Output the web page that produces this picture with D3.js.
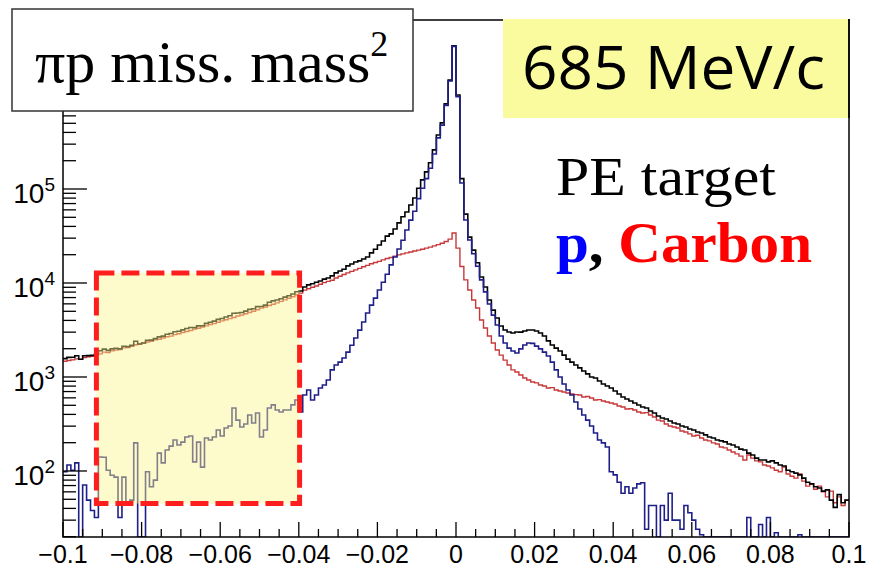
<!DOCTYPE html>
<html>
<head>
<meta charset="utf-8">
<script src="https://cdn.jsdelivr.net/npm/d3@7"></script>
<style>
  html, body { margin: 0; padding: 0; background: #ffffff; }
  svg { display: block; }
</style>
</head>
<body>
<svg id="chart" width="869" height="568"></svg>
<script>
// Missing-mass-squared histograms, 200 bins of 0.001 from -0.1 to 0.1
const xRange = [-0.1, 0.1];
const binWidth = 0.001;
const xTickValues = [-0.1, -0.08, -0.06, -0.04, -0.02, 0, 0.02, 0.04, 0.06, 0.08, 0.1];
const xTickLabels = ["\u22120.1", "\u22120.08", "\u22120.06", "\u22120.04", "\u22120.02", "0", "0.02", "0.04", "0.06", "0.08", "0.1"];
const yDecadeExponents = [2, 3, 4, 5];
const yRange = [19.85, 6.28e6];

// PE target (total)
const peTarget = [
  1570,1616,1620,1680,1545,1680,1690,1700,1730,1900,
  1980,1920,1990,2015,1990,2125,2105,2170,2400,2240,
  2300,2460,2470,2560,2675,2720,2850,2900,3030,3070,
  3170,3280,3360,3355,3500,3510,3720,3830,3930,4100,
  4190,4350,4480,4770,4800,4850,5020,5240,5320,5610,
  5630,5820,6230,6450,6600,6800,7070,7330,7650,8070,
  8220,9060,9550,9800,10200,10500,11000,11300,11900,12800,
  13400,14000,15200,15900,16700,17200,18000,18900,20900,22900,
  25400,28000,31500,33300,37600,43600,50600,56900,67700,80200,
  102000,125000,152000,190000,261000,376000,505000,805000,1440000,3330000,
  1000000,129000,54000,30800,22400,16400,11600,9060,6590,5150,
  4240,3490,3160,3010,2940,3010,3000,3090,3160,3160,
  3090,2940,2730,2420,2190,2030,1890,1710,1550,1440,
  1340,1250,1160,1080,1000,977,907,843,803,764,
  710,660,613,583,556,529,503,480,468,435,
  414,384,366,357,340,324,316,301,294,280,
  273,260,254,242,230,224,214,209,204,194,
  189,180,171,167,155,148,137,131,131,125,
  128,122,116,113,102,98,95,91,84,76,
  73,68,66,61,63,49,41,56,46,49
];

// proton component
const proton = [
  98,116,102,122,0,71,49,38,32,141,
  140,102,90,86,32,86,46,49,199,0,
  0,98,68,80,155,122,167,184,214,189,
  203,230,236,125,203,110,224,214,230,273,
  236,287,301,468,348,294,316,394,324,414,
  230,273,468,505,446,424,446,446,505,569,
  424,644,728,569,644,764,823,930,1190,1340,
  1440,1590,1840,2180,2600,3150,3850,4800,5820,6900,
  8420,10200,12400,15600,18900,23000,28500,36600,46700,58000,
  79000,102000,129000,166000,236000,350000,478000,775000,1410000,3290000,
  960000,116000,46800,28700,20500,15100,10800,8050,5970,4550,
  3570,2730,2300,2030,1890,1800,1990,2190,2300,2280,
  2130,1990,1840,1670,1440,1190,1000,843,728,644,
  542,457,394,348,301,254,214,199,180,98,
  91,76,58,68,58,66,73,75,24,43,
  43,0,43,30,58,30,30,24,43,36,
  30,24,21,0,0,0,0,0,0,0,
  0,0,0,0,32,0,0,27,0,32,
  0,22,0,0,0,0,0,21,0,0,
  0,0,0,0,0,0,0,0,0,0
];

// carbon component
const carbon = [
  1470,1500,1520,1560,1540,1610,1640,1660,1700,1760,
  1840,1820,1900,1930,1960,2040,2060,2120,2200,2240,
  2300,2360,2400,2480,2520,2600,2680,2720,2820,2880,
  2970,3050,3120,3230,3300,3400,3500,3620,3700,3830,
  3950,4060,4180,4300,4450,4560,4700,4850,5000,5200,
  5400,5550,5760,5950,6150,6380,6620,6880,7150,7500,
  7800,8400,8700,9000,9300,9700,10100,10400,10700,11300,
  11800,12300,12800,13300,13800,14300,14900,15400,16000,16500,
  17000,17600,18200,18700,19300,19900,20400,20900,21400,21900,
  22400,22900,23500,24100,24800,25600,26500,27600,29300,34000,
  23500,15000,10800,8420,6590,5420,4040,3320,2730,2300,
  1940,1710,1510,1340,1190,1130,1050,977,930,886,
  865,823,803,764,770,728,710,693,676,660,
  650,644,613,620,598,569,575,556,542,529,
  517,492,480,457,460,446,424,414,418,394,
  375,348,340,316,301,294,287,266,260,248,
  236,240,224,214,209,199,194,180,176,167,
  159,152,144,131,148,137,128,125,116,113,
  108,102,98,110,93,88,84,93,78,69,
  73,64,69,60,53,61,46,53,43,49
];

// highlighted region, in data units
const regionX = [-0.0915, -0.0398];
const regionY = [45, 12800];

const frame = { left: 63, right: 849, top: 20, bottom: 537 };

const svg = d3.select("#chart");
const x = d3.scaleLinear().domain(xRange).range([frame.left, frame.right]);
const y = d3.scaleLog().domain(yRange).range([frame.bottom, frame.top]);
const yc = v => y(Math.min(yRange[1], Math.max(yRange[0], v)));

svg.append("defs").append("clipPath").attr("id", "plotClip")
  .append("rect")
  .attr("x", frame.left).attr("y", frame.top)
  .attr("width", frame.right - frame.left).attr("height", frame.bottom - frame.top);

const plot = svg.append("g").attr("clip-path", "url(#plotClip)");

function stepPoints(values) {
  const pts = [];
  values.forEach((v, i) => {
    const x0 = xRange[0] + i * binWidth;
    pts.push([x0, v], [x0 + binWidth, v]);
  });
  return pts;
}
const stepLine = d3.line().x(d => x(d[0])).y(d => yc(d[1]));

const series = [
  { values: carbon, color: "#c8383a", width: 1.4 },
  { values: peTarget, color: "#000000", width: 1.6 },
  { values: proton, color: "#1f1f8a", width: 1.6 }
];
plot.selectAll("path.hist").data(series).join("path")
  .attr("class", "hist")
  .attr("d", s => stepLine(stepPoints(s.values)))
  .attr("fill", "none")
  .attr("stroke", s => s.color)
  .attr("stroke-width", s => s.width)
  .attr("stroke-linejoin", "miter");

// highlighted region: translucent yellow with thick red dashed outline
const rx0 = x(regionX[0]), rx1 = x(regionX[1]);
const ry0 = y(regionY[1]), ry1 = y(regionY[0]);
svg.append("rect")
  .attr("x", rx0).attr("y", ry0).attr("width", rx1 - rx0).attr("height", ry1 - ry0)
  .attr("fill", "rgb(250,245,140)").attr("fill-opacity", 0.45);
svg.append("rect")
  .attr("x", rx0).attr("y", ry0).attr("width", rx1 - rx0).attr("height", ry1 - ry0)
  .attr("fill", "none").attr("stroke", "#ff1e1e").attr("stroke-width", 5)
  .attr("stroke-dasharray", "18,7");

// axis ticks (drawn inward, ROOT style)
const axes = svg.append("g").attr("stroke", "#000").attr("stroke-width", 1.3);
const minorX = d3.range(0, 41).map(k => xRange[0] + k * 0.005);
axes.selectAll("line.xt").data(minorX).join("line")
  .attr("class", "xt")
  .attr("x1", d => x(d)).attr("x2", d => x(d))
  .attr("y1", frame.bottom)
  .attr("y2", (d, k) => frame.bottom - (k % 4 === 0 ? 15 : 8));

const yTicks = [];
for (let e = 1; e <= 6; e++) {
  for (let m = 1; m <= 9; m++) {
    const v = m * Math.pow(10, e);
    if (v >= yRange[0] && v <= yRange[1]) yTicks.push({ v, major: m === 1 });
  }
}
axes.selectAll("line.yt").data(yTicks).join("line")
  .attr("class", "yt")
  .attr("x1", frame.left)
  .attr("x2", d => frame.left + (d.major ? 24 : 13))
  .attr("y1", d => y(d.v)).attr("y2", d => y(d.v));

svg.append("rect")
  .attr("x", frame.left).attr("y", frame.top)
  .attr("width", frame.right - frame.left).attr("height", frame.bottom - frame.top)
  .attr("fill", "none").attr("stroke", "#000").attr("stroke-width", 1.5);

// tick labels
svg.append("g").selectAll("text").data(xTickValues).join("text")
  .attr("x", d => x(d)).attr("y", 563)
  .attr("text-anchor", "middle")
  .attr("font-family", "'Liberation Sans', Arial, sans-serif")
  .attr("font-size", 25)
  .text((d, i) => xTickLabels[i]);

const yLab = svg.append("g").selectAll("text").data(yDecadeExponents).join("text")
  .attr("x", 55).attr("y", e => y(Math.pow(10, e)) + 14)
  .attr("text-anchor", "end")
  .attr("font-family", "'Liberation Sans', Arial, sans-serif")
  .attr("font-size", 28);
yLab.append("tspan").text("10");
yLab.append("tspan").attr("dy", -12).attr("font-size", 19).text(e => e);

// title box
svg.append("rect")
  .attr("x", 12).attr("y", 9).attr("width", 401).attr("height", 102)
  .attr("fill", "#ffffff").attr("stroke", "#333").attr("stroke-width", 1.5);
const title = svg.append("text")
  .attr("x", 35).attr("y", 82)
  .attr("font-family", "'Liberation Serif', 'Times New Roman', serif")
  .attr("font-size", 60).attr("fill", "#000");
title.append("tspan").text("\u03c0p miss. mass");
title.append("tspan").attr("dy", -26).attr("font-size", 36).text("2");

// beam momentum label
svg.append("rect")
  .attr("x", 503).attr("y", 19).attr("width", 345).attr("height", 99)
  .attr("fill", "#fafa9e");
svg.append("text")
  .attr("x", 522).attr("y", 89)
  .attr("font-family", "'Open Sans', Lato, sans-serif")
  .attr("font-size", 60)
  .attr("textLength", 303).attr("lengthAdjust", "spacingAndGlyphs")
  .attr("fill", "#000")
  .text("685 MeV/c");
svg.append("line")
  .attr("x1", frame.right).attr("x2", frame.right)
  .attr("y1", 19).attr("y2", 118)
  .attr("stroke", "#000").attr("stroke-width", 1.5);

// legend text
svg.append("text")
  .attr("x", 556).attr("y", 195)
  .attr("font-family", "'Liberation Serif', 'Times New Roman', serif")
  .attr("font-size", 55)
  .attr("textLength", 220).attr("lengthAdjust", "spacingAndGlyphs")
  .attr("fill", "#000")
  .text("PE target");
const leg = svg.append("text")
  .attr("x", 556).attr("y", 262)
  .attr("font-family", "'Liberation Serif', 'Times New Roman', serif")
  .attr("font-size", 58).attr("font-weight", "bold")
  .attr("textLength", 256).attr("lengthAdjust", "spacingAndGlyphs");
leg.append("tspan").attr("fill", "#0000ff").text("p");
leg.append("tspan").attr("fill", "#000").text(", ");
leg.append("tspan").attr("fill", "#ff0000").text("Carbon");
</script>
</body>
</html>
